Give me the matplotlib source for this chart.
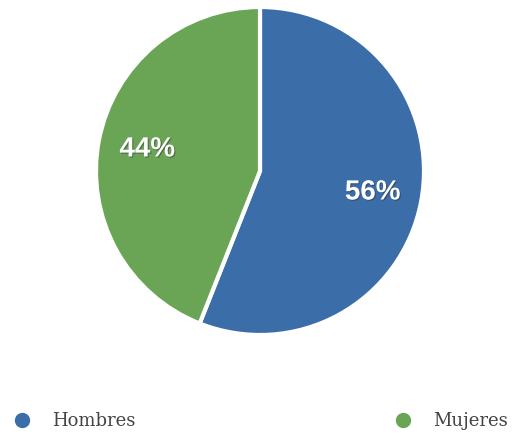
import matplotlib
matplotlib.use('Agg')
import matplotlib.pyplot as plt
import matplotlib.patheffects as pe
from matplotlib.lines import Line2D

categories = ['Hombres', 'Mujeres']
values = [56, 44]
colors = ['#3b6ea8', '#6aa556']

W, H = 517, 435
fig = plt.figure(figsize=(W / 100, H / 100), dpi=100)

# pie centred at (260, 172) px, radius ~164 px
cx, cy, r = 260, 172, 164
ax = fig.add_axes([(cx - r) / W, (H - cy - r) / H, 2 * r / W, 2 * r / H])
wedges, texts, autotexts = ax.pie(
    values, colors=colors, startangle=90, counterclock=False,
    autopct='%d%%', pctdistance=0.7,
    wedgeprops=dict(edgecolor='white', linewidth=3),
)
for t in autotexts:
    t.set_color('white')
    t.set_fontsize(20)
    t.set_fontweight('bold')
    t.set_family('Liberation Sans')
    t.set_path_effects([pe.withSimplePatchShadow(offset=(0.8, -0.8), shadow_rgbFace='#333333', alpha=0.5)])
ax.set_xlim(-1, 1)
ax.set_ylim(-1, 1)
ax.set_aspect('equal')
ax.axis('off')

# legend along the bottom
legend_x = [22, 403]
ly = 421
for name, col, x in zip(categories, colors, legend_x):
    fig.add_artist(Line2D([x / W], [1 - ly / H], marker='o', markersize=10,
                          color=col, linestyle='none', transform=fig.transFigure))
    fig.text((x + 30) / W, 1 - ly / H, name, fontsize=13, family='DejaVu Serif',
             color='#444444', va='center', ha='left')

fig.savefig('out.png', dpi=100)
